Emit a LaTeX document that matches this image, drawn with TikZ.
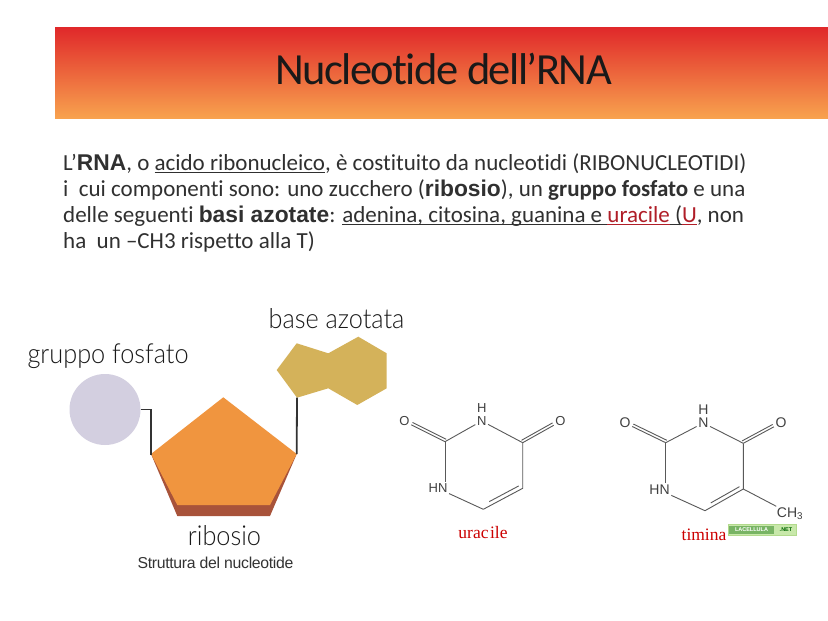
\documentclass[tikz,border=0pt]{standalone}
\usepackage{fontspec}
\setmainfont[Ligatures=NoCommon]{Carlito}
\newfontfamily\arialf{Liberation Sans}
\newfontfamily\timesf{Liberation Serif}
\newfontfamily\latof[FakeStretch=0.92]{Lato Light}
\newcommand{\ab}[1]{{\arialf\bfseries\fontsize{22.8}{26}\selectfont #1}}
\newsavebox{\ulbox}
\newcommand{\ul}[1]{\sbox{\ulbox}{#1}\rlap{\rule[-2.8pt]{\wd\ulbox}{1pt}}\usebox{\ulbox}}
\definecolor{txt}{HTML}{303030}
\definecolor{hdrtop}{HTML}{E0282A}
\definecolor{hdrbot}{HTML}{F8A24E}
\definecolor{mycred}{HTML}{B01E28}
\usetikzlibrary{calc}
\tikzset{
  bodyline/.style={anchor=base west,inner sep=0pt,text=txt,font=\fontsize{23}{26}\selectfont},
  biglabel/.style={inner sep=0pt,text=black!90,font=\latof\fontsize{27.5}{30}\selectfont},
  atom/.style={inner sep=1.5pt,text=black!75,font=\arialf\fontsize{13}{15}\selectfont},
  atomb/.style={atom,font=\arialf\fontsize{14}{16}\selectfont},
  bond/.style={draw=black!65,line width=0.9pt},
  redname/.style={inner sep=0pt,text=red!80!black,font=\timesf\fontsize{17.5}{20}\selectfont},
  linker/.style={draw=black!80,line width=1.8pt}
}
\begin{document}
\begin{tikzpicture}[x=1pt,y=-1pt]
\useasboundingbox (0,0) rectangle (828,621);
\fill[white] (0,0) rectangle (828,621);
\shade[top color=hdrtop,bottom color=hdrbot] (55,27) rectangle (828,118);
\node[inner sep=0pt,text=black!90,font=\fontsize{44.5}{48}\selectfont\addfontfeatures{LetterSpace=-3.5}] (title) at (443.5,69) {Nucleotide dell’RNA};

\node[bodyline] (l1) at (63,170) {L’\ab{RNA}, o \ul{acido ribonucleico}, è costituito da nucleotidi (RIBONUCLEOTIDI)};
\node[bodyline] (l2) at (63,196) {i\ \ cui componenti sono: uno zucchero (\ab{ribosio}), un \textbf{gruppo fosfato} e una};
\node[bodyline] (l3) at (63,222) {delle seguenti \ab{basi azotate}: \ul{adenina, citosina, guanina e }\textcolor{mycred}{\ul{uracile}}\ul{ (}\textcolor{mycred}{\ul{U}}, non};
\node[bodyline] (l4) at (63,248) {ha\ \ un –CH3 rispetto alla T)};

% nucleotide scheme
\node[circle,inner sep=0pt,minimum size=71pt,fill={rgb,255:red,211;green,207;blue,224}] (fosfato) at (105,409.5) {};
\coordinate (pL) at (151,454);
\coordinate (pT) at (223.3,397.3);
\coordinate (pR) at (296.7,454);
\coordinate (pBR) at (270,505);
\coordinate (pBL) at (177.3,505);
\coordinate (sBR) at (270,516);
\coordinate (sBL) at (177.3,516);
\fill[fill={rgb,255:red,168;green,83;blue,58}] (pL) -- (sBL) -- (sBR) -- (pR) -- cycle;
\fill[fill={rgb,255:red,240;green,149;blue,63}] (pL) -- (pT) -- (pR) -- (pBR) -- (pBL) -- cycle;
\coordinate (bA) at (297,397.7);
\fill[fill={rgb,255:red,212;green,178;blue,90}] (276.7,370) -- (296.7,343.3) -- (328.3,353.3) -- (358.3,336.7) -- (386.7,353.3) -- (386.7,388.3) -- (357.3,405) -- (328.3,388.3) -- (bA) -- cycle;
\draw[linker] (fosfato.east) -- ++(10,0) |- (pL);
\draw[linker] (bA) -- (pR);
\node[biglabel] (lfos) at (108,356) {gruppo fosfato};
\node[biglabel] (lbase) at (336.5,319) {base azotata};
\node[biglabel] (lrib) at (224.5,536) {ribosio};
\node[inner sep=0pt,text=black!80,font=\arialf\fontsize{15.8}{18}\selectfont\addfontfeatures{LetterSpace=-2}] (lcap) at (215.5,563) {Struttura del nucleotide};

% uracil
\node[atom] (uH) at (481.7,408.5) {H};
\node[atom] (uN) at (481.7,421) {N};
\node[atom] (uO1) at (404.5,421.5) {O};
\node[atom] (uO2) at (560.5,421.5) {O};
\node[atom] (uNH) at (438,488.5) {HN};
\coordinate (uC2) at (445,441.7);
\coordinate (uC4) at (522.7,442.7);
\coordinate (uC5) at (522.7,488.3);
\coordinate (uC6) at (483.3,509.3);
\draw[bond] (uN) -- (uC2);
\draw[bond] (uN) -- (uC4);
\draw[bond] (uC2) -- (uC2 |- uNH.north);
\draw[bond] (uNH) -- (uC6);
\draw[bond] (uC6) -- (uC5) -- (uC4);
\draw[bond] ($(uC6)!0.15!(uC5)+(0,-4.5)$) -- ($(uC6)!0.9!(uC5)+(0,-4.5)$);
\draw[bond] (uC2) -- (uO1);
\draw[bond,transform canvas={xshift=1.2pt,yshift=2.4pt}] (uC2) -- (uO1);
\draw[bond] (uC4) -- (uO2);
\draw[bond,transform canvas={xshift=-1.2pt,yshift=2.4pt}] (uC4) -- (uO2);
\node[redname] (uname) at (483,533) {urac\kern1.5pt ile};

% thymine
\node[atomb] (tH) at (703.3,410) {H};
\node[atomb] (tN) at (703.3,423) {N};
\node[atomb] (tO1) at (625,423) {O};
\node[atomb] (tO2) at (781,423) {O};
\node[atomb] (tNH) at (659.5,490) {HN};
\coordinate (tC2) at (665.7,442.7);
\coordinate (tC4) at (743.3,443.3);
\coordinate (tC5) at (743.3,489);
\coordinate (tC6) at (705,510.7);
\node[atomb,inner sep=1pt] (tMe) at (790,513.5) {CH\textsubscript{3}};
\draw[bond] (tN) -- (tC2);
\draw[bond] (tN) -- (tC4);
\draw[bond] (tC2) -- (tC2 |- tNH.north);
\draw[bond] (tNH) -- (tC6);
\draw[bond] (tC6) -- (tC5) -- (tC4);
\draw[bond] ($(tC6)!0.15!(tC5)+(0,-4.5)$) -- ($(tC6)!0.9!(tC5)+(0,-4.5)$);
\draw[bond] (tC5) -- (tMe);
\draw[bond] (tC2) -- (tO1);
\draw[bond,transform canvas={xshift=1.2pt,yshift=2.4pt}] (tC2) -- (tO1);
\draw[bond] (tC4) -- (tO2);
\draw[bond,transform canvas={xshift=-1.2pt,yshift=2.4pt}] (tC4) -- (tO2);
\node[redname] (tname) at (704,535) {timina};
\node[draw={rgb,255:red,178;green,218;blue,140},fill={rgb,255:red,200;green,232;blue,170},minimum width=68pt,minimum height=11pt,inner sep=0pt] (badge) at (762.5,530) {};
\node[fill={rgb,255:red,120;green,180;blue,100},text=white,inner sep=0pt,minimum width=45pt,minimum height=8pt,font=\arialf\bfseries\fontsize{5.5}{6}\selectfont] (badgea) at (751.5,530) {LACELLULA};
\node[text=black!60!green,inner sep=0pt,font=\arialf\bfseries\fontsize{5.5}{6}\selectfont] (badgeb) at (786,530) {.NET};
\end{tikzpicture}
\end{document}
